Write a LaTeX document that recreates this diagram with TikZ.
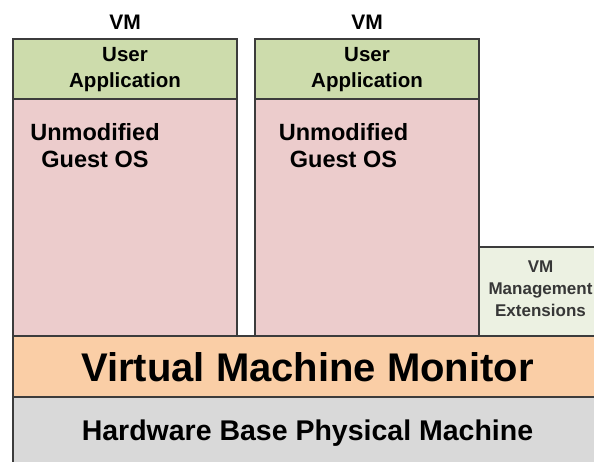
\documentclass[tikz,border=0pt]{standalone}
\usepackage{fontspec}
\setmainfont{Liberation Sans}
\definecolor{appgreen}{RGB}{205,220,172}
\definecolor{ospink}{RGB}{236,204,204}
\definecolor{vmmorange}{RGB}{250,206,166}
\definecolor{hwgray}{RGB}{217,217,217}
\definecolor{extgreen}{RGB}{236,241,226}
\definecolor{edge}{RGB}{60,60,60}
\definecolor{exttext}{RGB}{55,55,55}

\begin{document}
\begin{tikzpicture}[x=1pt,y=-1pt,
  layer/.style={draw=edge, line width=1.4pt, inner sep=0pt, outer sep=0pt, anchor=north west},
  lbl/.style={text=black, inner sep=0pt, outer sep=0pt, align=center}]
\useasboundingbox (0,0) rectangle (594,462);
\clip (0,0) rectangle (594,462);

% base layers
\node[layer, fill=hwgray, minimum width=620pt, minimum height=90pt] (hw) at (13,397) {};
\node[layer, fill=vmmorange, minimum width=620pt, minimum height=61pt] (vmm) at (13,336) {};

% first virtual machine
\node[layer, fill=ospink, minimum width=224pt, minimum height=237pt] (os1) at (13,99) {};
\node[layer, fill=appgreen, minimum width=224pt, minimum height=60pt] (app1) at (13,39) {};

% second virtual machine
\node[layer, fill=ospink, minimum width=224pt, minimum height=237pt] (os2) at (255,99) {};
\node[layer, fill=appgreen, minimum width=224pt, minimum height=60pt] (app2) at (255,39) {};

% management extensions
\node[layer, fill=extgreen, minimum width=140pt, minimum height=89pt] (ext) at (479,247) {};

% labels
\node[lbl, anchor=base, font=\fontsize{21}{25}\bfseries] (vm1) at (125,30) {VM};
\node[lbl, anchor=base, font=\fontsize{21}{25}\bfseries] (vm2) at (367,30) {VM};

\node[lbl, anchor=north, font=\fontsize{20.5}{26}\bfseries] (app1t) at (125,47) {User\\Application};
\node[lbl, anchor=north, font=\fontsize{20.5}{26}\bfseries] (app2t) at (367,47) {User\\Application};

\node[lbl, anchor=north, font=\fontsize{23.5}{27}\bfseries] (os1t) at (95,123) {Unmodified\\Guest OS};
\node[lbl, anchor=north, font=\fontsize{23.5}{27}\bfseries] (os2t) at (343.5,123) {Unmodified\\Guest OS};

\node[lbl, anchor=north, text=exttext, font=\fontsize{17}{22}\bfseries] (extt) at (540.5,261) {VM\\Management\\Extensions};

\node[lbl, anchor=base, font=\fontsize{40}{44}\bfseries] (vmmt) at (307.5,381) {Virtual Machine Monitor};
\node[lbl, anchor=base, font=\fontsize{28.5}{32}\bfseries] (hwt) at (307.5,440) {Hardware Base Physical Machine};
\end{tikzpicture}
\end{document}
